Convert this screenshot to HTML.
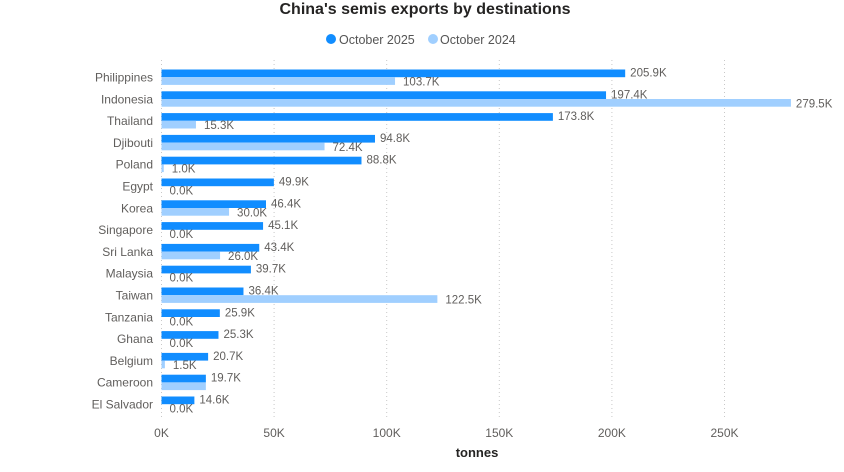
<!DOCTYPE html>
<html><head><meta charset="utf-8"><style>
body{margin:0;background:#fff;}
svg text{font-family:"Liberation Sans",sans-serif;}
</style></head><body>
<svg width="844" height="467" viewBox="0 0 844 467" xmlns="http://www.w3.org/2000/svg">
<text x="425" y="14" text-anchor="middle" font-size="16" font-weight="bold" fill="#252423">China's semis exports by destinations</text>
<circle cx="331" cy="39" r="5" fill="#118DFF"/>
<text x="339" y="44" font-size="12.5" fill="#555">October 2025</text>
<circle cx="433" cy="39" r="5" fill="#A0CFFF"/>
<text x="440" y="44" font-size="12.5" fill="#555">October 2024</text>
<g id="grid" stroke="#c8c8c8" stroke-dasharray="1,3" stroke-width="1"></g>
<g id="bars"></g>
<text x="477" y="457" text-anchor="middle" font-size="13" font-weight="bold" fill="#252423">tonnes</text>
</svg>
<script>
const d=[["Philippines",205.9,103.7],["Indonesia",197.4,279.5],["Thailand",173.8,15.3],["Djibouti",94.8,72.4],["Poland",88.8,1.0],["Egypt",49.9,0],["Korea",46.4,30.0],["Singapore",45.1,0],["Sri Lanka",43.4,26.0],["Malaysia",39.7,0],["Taiwan",36.4,122.5],["Tanzania",25.9,0],["Ghana",25.3,0],["Belgium",20.7,1.5],["Cameroon",19.7,19.7],["El Salvador",14.6,0]];
const x0=161.5,k=2.252;let s="",g="";
for(let t=0;t<=250;t+=50){const x=x0+t*k;g+=`<line x1="${x}" y1="60" x2="${x}" y2="418"/>`;
s+=`<text x="${x}" y="437" text-anchor="middle" font-size="12" fill="#605E5C">${t}K</text>`;}
d.forEach((r,i)=>{const y=69.5+21.8*i;
s+=`<text x="153" y="${y+12}" text-anchor="end" font-size="12" fill="#605E5C">${r[0]}</text>`;
s+=`<rect x="${x0}" y="${y}" width="${r[1]*k}" height="7.7" fill="#118DFF"/>`;
s+=`<rect x="${x0}" y="${y+7.7}" width="${Math.max(r[2]*k,0)}" height="7.7" fill="#A0CFFF"/>`;
s+=`<text x="${x0+r[1]*k+5}" y="${y+7}" font-size="11.5" fill="#605E5C">${r[1].toFixed(1)}K</text>`;
if(r[0]!=="Cameroon"){const lx=r[2]>200?x0+r[2]*k+5:x0+r[2]*k+8;
s+=`<text x="${lx}" y="${y+16}" font-size="11.5" fill="#605E5C">${r[2].toFixed(1)}K</text>`;}});
document.getElementById("grid").innerHTML=g;document.getElementById("bars").innerHTML=s;
</script>
</body></html>
